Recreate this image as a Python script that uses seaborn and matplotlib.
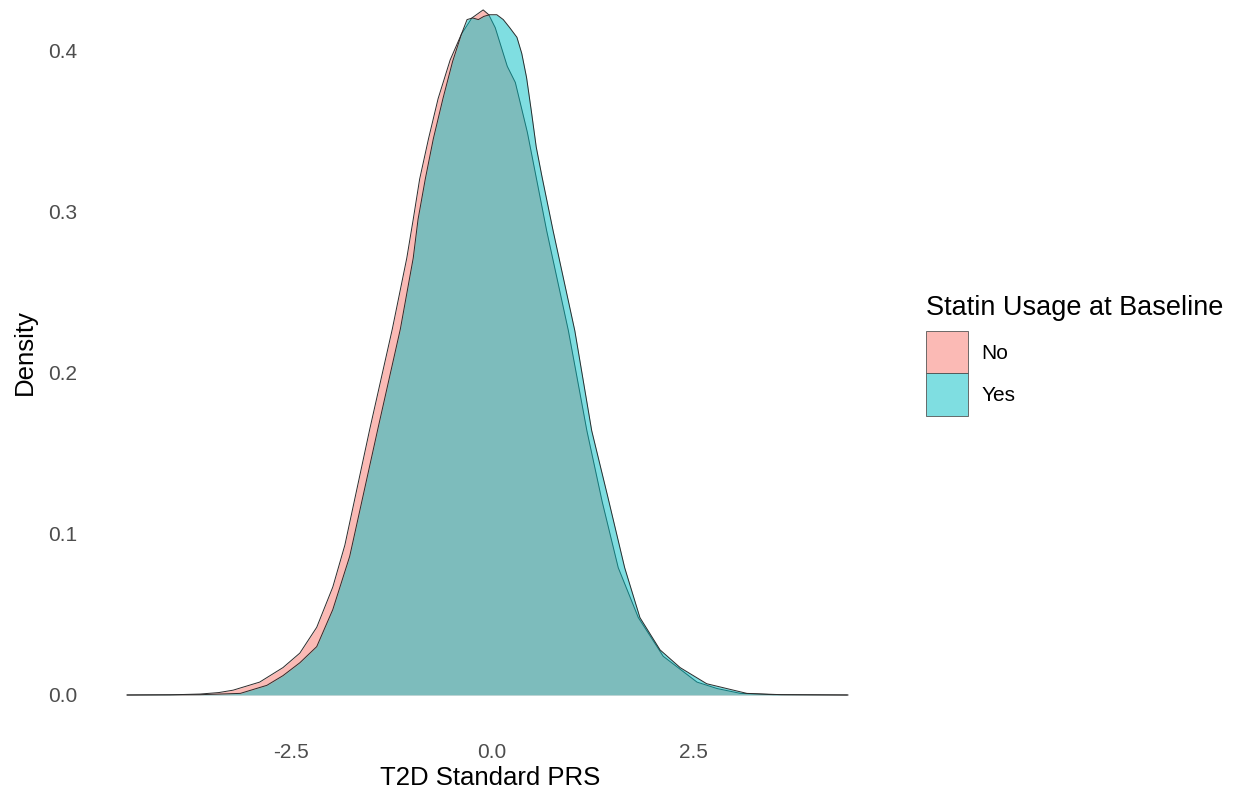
import numpy as np
import pandas as pd
import matplotlib
matplotlib.use("Agg")
import matplotlib.pyplot as plt
from matplotlib.patches import Patch
from matplotlib.colors import to_rgba
import seaborn as sns

# ---- data ----
groups = ["No", "Yes"]
group_colors = ["#F8766D", "#00BFC4"]

no_x = [-4.54, -4.00, -3.63, -3.40, -3.22, -2.89, -2.60, -2.39, -2.18, -1.98,
        -1.83, -1.52, -1.24, -1.06, -0.98, -0.90, -0.79, -0.67, -0.52, -0.38,
        -0.25, -0.11, -0.04, 0.04, 0.19, 0.29, 0.44, 0.68, 0.95, 1.18,
        1.37, 1.57, 1.82, 2.13, 2.55, 2.80, 3.09, 3.50, 4.43]
no_density = [0.0, 0.0001, 0.0006, 0.0015, 0.003, 0.008, 0.017, 0.026, 0.042, 0.067,
              0.093, 0.165, 0.227, 0.271, 0.295, 0.320, 0.345, 0.370, 0.394, 0.410,
              0.420, 0.425, 0.422, 0.414, 0.390, 0.380, 0.349, 0.288, 0.226, 0.164,
              0.120, 0.079, 0.048, 0.024, 0.008, 0.004, 0.001, 0.0002, 0.0]

yes_x = [-4.54, -4.00, -3.63, -3.13, -2.80, -2.60, -2.39, -2.18, -1.98, -1.77,
         -1.42, -1.14, -0.98, -0.92, -0.83, -0.73, -0.61, -0.49, -0.38, -0.31,
         -0.24, -0.17, -0.10, -0.03, 0.06, 0.14, 0.22, 0.31, 0.37, 0.43,
         0.49, 0.55, 0.62, 0.76, 1.03, 1.24, 1.44, 1.65, 1.84, 2.09, 2.34,
         2.67, 3.17, 3.60, 4.42]
yes_density = [0.0, 0.0001, 0.0002, 0.001, 0.006, 0.012, 0.020, 0.030, 0.053, 0.086,
               0.165, 0.227, 0.271, 0.295, 0.320, 0.345, 0.370, 0.393, 0.410, 0.419,
               0.420, 0.419, 0.421, 0.422, 0.422, 0.419, 0.414, 0.408, 0.398, 0.383,
               0.362, 0.340, 0.322, 0.288, 0.226, 0.164, 0.123, 0.079, 0.048, 0.028, 0.017,
               0.007, 0.001, 0.0002, 0.0]

x_ticks = [-2.5, 0.0, 2.5]
y_ticks = [0.0, 0.1, 0.2, 0.3, 0.4]

x_title = "T2D Standard PRS"
y_title = "Density"
legend_title = "Statin Usage at Baseline"

# ---- build table ----
df = pd.concat([
    pd.DataFrame({"prs": no_x, "density": no_density, "statin": groups[0]}),
    pd.DataFrame({"prs": yes_x, "density": yes_density, "statin": groups[1]}),
], ignore_index=True)

sns.set_theme(style="white")
plt.rcParams["font.family"] = ["Liberation Sans", "DejaVu Sans"]
plt.rcParams["text.color"] = "black"

W, H = 1235, 797
fig = plt.figure(figsize=(W / 100, H / 100), dpi=100)
# panel placement in pixels
L, R, T, B = 91, 884, 0, 729
ax = fig.add_axes([L / W, (H - B) / H, (R - L) / W, (B - T) / H])

for i, (g, c) in enumerate(zip(groups, group_colors)):
    sub = df[df["statin"] == g]
    ax.fill_between(sub["prs"], sub["density"], 0, color=c, alpha=0.5,
                    linewidth=0, zorder=2 * i + 1)
    sns.lineplot(data=sub, x="prs", y="density", color="#2b2b2b", linewidth=0.7,
                 estimator=None, ax=ax, zorder=2 * i + 2, legend=False)

# scales (pixel mapping: 0 at x=492, 80.4 px/unit; y 0 at 695, 1612 px/unit)
ax.set_xlim((L - 492) / 80.4, (R - 492) / 80.4)
ax.set_ylim((695 - B) / 1612, (695 - T) / 1612)
ax.set_xticks(x_ticks)
ax.set_xticklabels([f"{v:.1f}" for v in x_ticks])
ax.set_yticks(y_ticks)
ax.set_yticklabels([f"{v:.1f}" for v in y_ticks])
ax.tick_params(axis="both", length=0, labelsize=15, labelcolor="#4D4D4D")
ax.tick_params(axis="x", pad=10)
ax.tick_params(axis="y", pad=10)
ax.grid(False)
sns.despine(ax=ax, left=True, bottom=True)

ax.set_xlabel(x_title, fontsize=18.5, color="black")
ax.set_ylabel(y_title, fontsize=18.5, color="black")
ax.xaxis.set_label_coords((490 - L) / (R - L), (B - 766) / (B - T))
ax.yaxis.set_label_coords((37 - L) / (R - L), (B - 352) / (B - T))

handles = [Patch(facecolor=to_rgba(c, 0.5), edgecolor="#555555", linewidth=0.6)
           for c in group_colors]
leg = fig.legend(handles, groups, title=legend_title, loc="upper left",
                 bbox_to_anchor=(926 / W, 1 - 295 / H), frameon=False,
                 fontsize=15, title_fontsize=19.5, handlelength=2.0, handleheight=2.73,
                 labelspacing=0, handletextpad=0.67, borderpad=0, borderaxespad=0,
                 alignment="left")
leg._legend_box.sep = 7.5
for t in leg.get_texts():
    t.set_color("black")
leg.get_title().set_color("black")

fig.savefig("out.png", dpi=100)
